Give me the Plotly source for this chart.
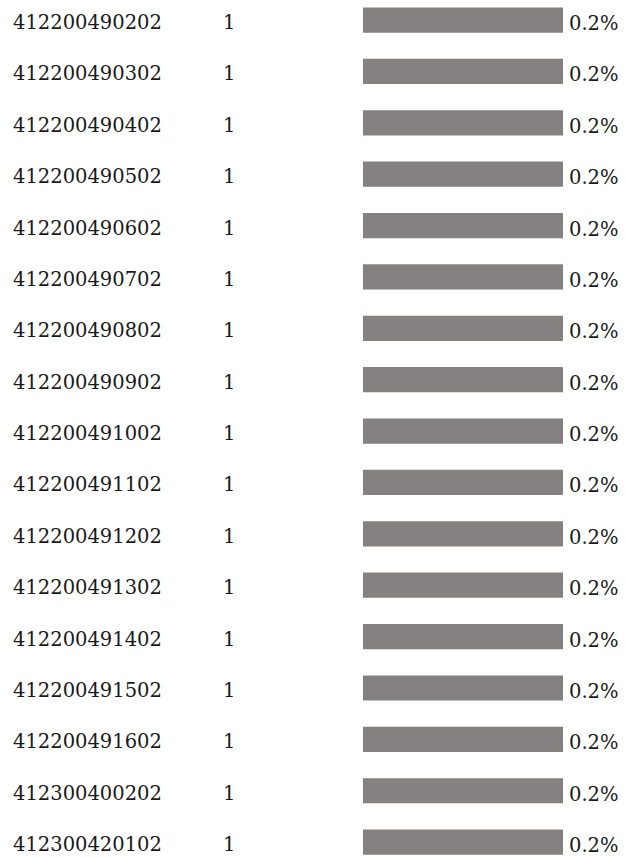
import plotly.graph_objects as go

# Row data: region code, record count, share of total (percent)
codes = [
    "412200490202", "412200490302", "412200490402", "412200490502",
    "412200490602", "412200490702", "412200490802", "412200490902",
    "412200491002", "412200491102", "412200491202", "412200491302",
    "412200491402", "412200491502", "412200491602", "412300400202",
    "412300420102",
]
counts = [1] * 17
shares = [0.2] * 17

FONT = "DejaVu Serif"
FONT_SIZE = 19.5
TEXT_COLOR = "#1a1a1a"
BAR_COLOR = "#858180"

fig = go.Figure()
fig.add_trace(go.Bar(
    x=shares,
    y=codes,
    orientation="h",
    marker=dict(color=BAR_COLOR, line=dict(width=0)),
    width=0.49,
    hoverinfo="skip",
))

# Text columns are placed by row index on the category axis
annotations = []
for row, (code, cnt, pct) in enumerate(zip(codes, counts, shares)):
    annotations.append(dict(
        x=11 / 625, xref="paper", y=row, yref="y",
        text=code, showarrow=False, xanchor="left", yanchor="middle",
        font=dict(family=FONT, size=FONT_SIZE, color=TEXT_COLOR), yshift=-2.5,
    ))
    annotations.append(dict(
        x=221 / 625, xref="paper", y=row, yref="y",
        text=str(cnt), showarrow=False, xanchor="left", yanchor="middle",
        font=dict(family=FONT, size=FONT_SIZE, color=TEXT_COLOR), yshift=-2.5,
    ))
    annotations.append(dict(
        x=pct, xref="x", y=row, yref="y",
        text=f"{pct}%", showarrow=False, xanchor="left", yanchor="middle",
        font=dict(family=FONT, size=FONT_SIZE, color=TEXT_COLOR),
        xshift=4, yshift=-3.5,
    ))

fig.update_layout(
    width=625, height=857,
    margin=dict(l=0, r=0, t=0, b=0),
    paper_bgcolor="white", plot_bgcolor="white",
    showlegend=False,
    annotations=annotations,
    xaxis=dict(domain=[363 / 625, 563 / 625], range=[0, 0.2],
               visible=False, fixedrange=True),
    yaxis=dict(domain=[0, 1], range=[16.29, -0.39], visible=False,
               type="category", categoryorder="array", categoryarray=codes,
               fixedrange=True),
)

fig.write_html("out.html")
